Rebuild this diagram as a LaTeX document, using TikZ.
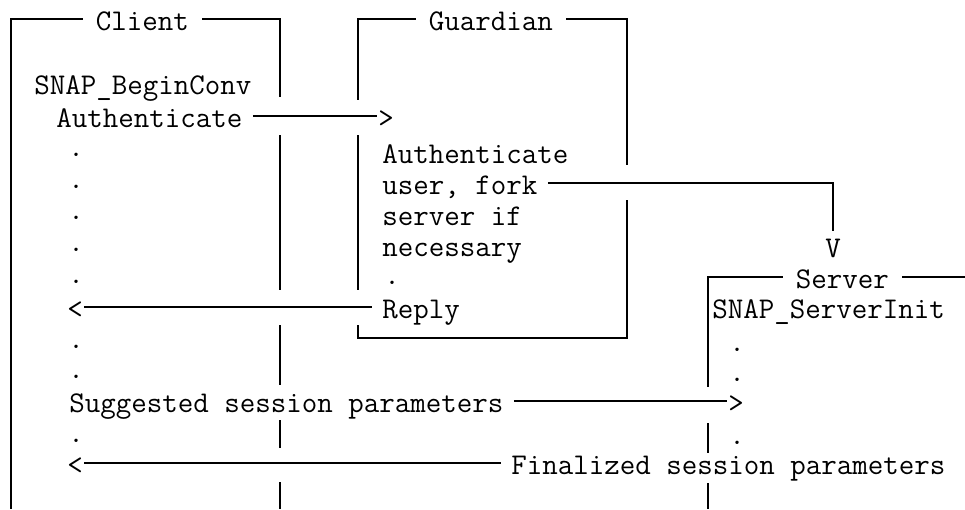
\documentclass[tikz,border=0pt]{standalone}
\usepackage{fontspec}
\usepackage{tikz}

\begin{document}
\begin{tikzpicture}[x=0.025cm, y=-0.025cm, line width=1.1pt,
    txt/.style={anchor=base west, inner xsep=7pt, inner ysep=0pt, text height=18pt, text depth=2.4pt,
      font=\ttfamily\fontsize{21.4pt}{26pt}\selectfont},
    title/.style={txt, inner xsep=9pt},
    tip/.style={txt, anchor=base, inner xsep=0pt},
    dotmark/.style={inner sep=0pt, font=\ttfamily\fontsize{21.4pt}{26pt}\selectfont}]
      \useasboundingbox (0,0) rectangle (965,509);

      \node (client) at (82.5,30) [title] {Client};
      \node (guardian) at (415.5,30) [title] {Guardian};
      \node (server) at (782.5,288) [title] {Server};

      \node (sbc) at (23.7,94) [txt] {SNAP\_BeginConv};
      \node (auth) at (45.7,127) [txt] {Authenticate};
      \node (authtip) at (386,127) [tip] {>};

      \node (gauth) at (371.7,163) [txt] {Authenticate};
      \node (fork) at (371.7,194) [txt] {user, fork};
      \node (srvif) at (371.7,225) [txt] {server if};
      \node (needed) at (371.7,256) [txt] {necessary};
      \node (gdot) at (392,283) [dotmark] {.};
      \node (reply) at (371.7,318) [txt] {Reply};
      \node (replytip) at (75,318) [tip] {<};

      \node (vtip) at (833,257) [tip] {V};
      \node (sinit) at (701.7,318) [txt] {SNAP\_ServerInit};
      \node (sdot1) at (737,350) [dotmark] {.};
      \node (sdot2) at (737,380) [dotmark] {.};
      \node (sugtip) at (736,412) [tip] {>};
      \node (sdot3) at (737,443) [dotmark] {.};

      \node (cdot1) at (76,155) [dotmark] {.};
      \node (cdot2) at (76,187) [dotmark] {.};
      \node (cdot3) at (76,218) [dotmark] {.};
      \node (cdot4) at (76,250) [dotmark] {.};
      \node (cdot5) at (76,282) [dotmark] {.};
      \node (cdot6) at (76,347) [dotmark] {.};
      \node (cdot7) at (76,377) [dotmark] {.};
      \node (sugg) at (58.7,412) [txt] {Suggested session parameters};
      \node (cdot8) at (76,441) [dotmark] {.};
      \node (fintip) at (75,474) [tip] {<};
      \node (fin) at (500.7,474) [txt] {Finalized session parameters};

      % client box
      \draw (client.west) -| (11,509);
      \draw (client.east) -| (280,97);
      \draw (280,135) -- (280,290) (280,325) -- (280,385);
      \draw (280,420) -- (280,448) (280,482) -- (280,509);

      % guardian box
      \draw (guardian.west) -| (358,100);
      \draw (guardian.east) -| (627,165);
      \draw (358,135) -- (358,290);
      \draw (358,325) |- (627,338) -- (627,200);

      % server box
      \draw (server.west) -| (708,387);
      \draw (server.east) -- +(70,0);
      \draw (708,423) -- (708,453) (708,483) -- (708,509);

      \draw (auth) -- (authtip);
      \draw (fork.east) -| (vtip.north);
      \draw (reply) -- (replytip);
      \draw (sugg) -- (sugtip);
      \draw (fin) -- (fintip);
    \end{tikzpicture}
\end{document}
